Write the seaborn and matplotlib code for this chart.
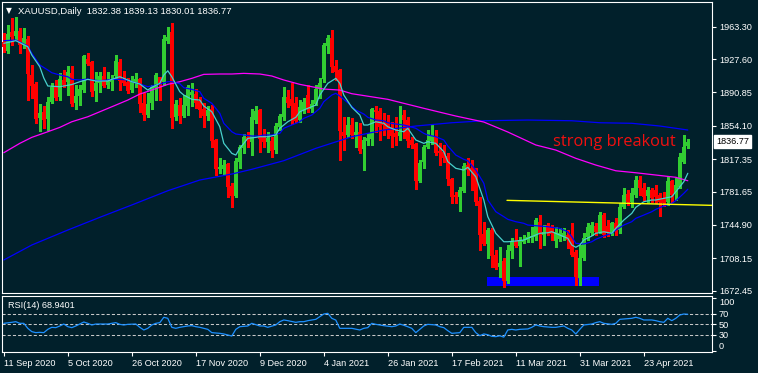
import numpy as np
import pandas as pd
import matplotlib
matplotlib.use("Agg")
import matplotlib.pyplot as plt
import matplotlib.transforms as mtransforms
import seaborn as sns

# ---------------- data ----------------
symbol_title = "XAUUSD,Daily  1832.38 1839.13 1830.01 1836.77"
rsi_title = "RSI(14) 68.9401"
note_text = "strong breakout"

date_labels = ["11 Sep 2020", "5 Oct 2020", "26 Oct 2020", "17 Nov 2020", "9 Dec 2020",
               "4 Jan 2021", "26 Jan 2021", "17 Feb 2021", "11 Mar 2021", "31 Mar 2021",
               "23 Apr 2021"]
date_idx = [0, 16, 32, 48, 64, 80, 96, 112, 128, 144, 160]

price_ticks = [1963.30, 1927.60, 1890.85, 1854.10, 1817.35, 1781.65, 1744.90, 1708.15, 1672.45]
rsi_ticks = [100, 70, 50, 30, 0]
rsi_levels = [70, 50, 30]

opens = [1946.8, 1936.8, 1957.8, 1953.0, 1958.5, 1943.1, 1949.7, 1910.1, 1900.2, 1862.7,
         1869.3, 1861.6, 1880.6, 1896.9, 1886.2, 1904.6, 1902.4, 1912.3, 1879.2, 1886.9,
         1893.5, 1927.7, 1924.7, 1892.8, 1901.3, 1909.0, 1899.1, 1902.4, 1909.0, 1924.4,
         1905.7, 1902.4, 1893.5, 1901.3, 1905.7, 1879.6, 1866.0, 1879.2, 1895.8, 1907.9,
         1902.4, 1947.9, 1957.8, 1863.5, 1877.0, 1865.2, 1875.9, 1888.0, 1889.1, 1881.4,
         1872.6, 1865.2, 1872.6, 1838.5, 1806.5, 1806.5, 1812.0, 1787.8, 1776.8, 1814.6,
         1829.7, 1842.1, 1836.6, 1860.5, 1871.5, 1841.8, 1836.6, 1837.7, 1827.4, 1852.4,
         1863.5, 1885.5, 1883.3, 1879.6, 1860.5, 1871.5, 1888.0, 1872.3, 1878.1, 1894.3,
         1905.3, 1942.0, 1950.5, 1920.0, 1915.6, 1847.6, 1844.0, 1855.0, 1844.0, 1847.6,
         1828.6, 1837.7, 1839.6, 1871.5, 1870.7, 1857.5, 1856.9, 1852.0, 1845.8, 1842.9,
         1866.0, 1860.5, 1838.5, 1834.1, 1793.6, 1814.6, 1830.4, 1837.7, 1843.2, 1826.3,
         1825.6, 1820.8, 1795.2, 1777.9, 1776.0, 1782.6, 1810.9, 1807.3, 1806.5, 1771.3,
         1734.9, 1723.9, 1739.3, 1711.8, 1698.2, 1705.2, 1683.5, 1716.5, 1726.4, 1721.7,
         1726.4, 1728.3, 1730.2, 1731.9, 1748.5, 1733.8, 1744.8, 1743.0, 1727.5, 1729.1,
         1731.3, 1733.8, 1733.8, 1715.4, 1686.1, 1708.1, 1731.9, 1735.7, 1743.7, 1737.4,
         1755.8, 1743.7, 1735.7, 1746.7, 1739.3, 1764.3, 1779.0, 1770.5, 1777.9, 1794.4,
         1785.2, 1776.8, 1783.4, 1783.4, 1777.9, 1774.2, 1770.5, 1793.3, 1779.7, 1787.0,
         1814.6, 1832.38]
highs = [1956.3, 1965.2, 1972.9, 1974.0, 1961.9, 1961.9, 1953.0, 1921.1, 1902.4, 1878.1,
         1875.9, 1886.2, 1901.3, 1904.6, 1912.3, 1915.6, 1920.0, 1920.0, 1899.1, 1899.1,
         1932.1, 1934.3, 1925.5, 1913.7, 1913.7, 1919.2, 1913.7, 1910.1, 1932.1, 1927.7,
         1914.8, 1906.8, 1909.0, 1912.6, 1906.8, 1890.2, 1890.6, 1899.1, 1911.9, 1908.2,
         1954.1, 1963.3, 1967.0, 1882.5, 1884.4, 1888.0, 1899.1, 1900.9, 1894.6, 1886.2,
         1878.9, 1875.9, 1877.0, 1839.6, 1818.6, 1816.4, 1813.4, 1791.1, 1818.3, 1833.0,
         1845.1, 1847.6, 1872.3, 1875.9, 1872.6, 1850.3, 1847.6, 1842.1, 1856.9, 1866.8,
         1897.2, 1893.5, 1900.9, 1886.2, 1882.5, 1884.4, 1899.1, 1882.5, 1899.1, 1906.4,
         1945.7, 1954.1, 1959.7, 1926.6, 1916.7, 1864.1, 1863.5, 1862.4, 1858.6, 1857.2,
         1842.1, 1845.8, 1873.4, 1875.9, 1873.4, 1868.5, 1866.0, 1858.6, 1864.1, 1875.9,
         1871.5, 1864.1, 1842.1, 1834.8, 1816.4, 1833.0, 1849.5, 1856.1, 1849.5, 1834.8,
         1833.0, 1823.8, 1796.3, 1781.5, 1787.0, 1812.8, 1818.3, 1816.4, 1807.3, 1776.0,
         1748.5, 1741.2, 1741.2, 1717.3, 1720.9, 1708.1, 1722.8, 1730.2, 1740.1, 1731.9,
         1733.8, 1737.4, 1743.0, 1752.5, 1755.8, 1744.8, 1746.7, 1744.8, 1743.0, 1741.2,
         1741.5, 1739.3, 1746.7, 1717.3, 1722.8, 1735.7, 1746.7, 1748.5, 1746.7, 1759.5,
         1757.7, 1750.3, 1748.5, 1752.2, 1769.4, 1785.2, 1783.4, 1785.2, 1798.8, 1798.8,
         1790.8, 1787.0, 1785.2, 1788.9, 1779.7, 1781.5, 1798.0, 1794.4, 1796.3, 1823.8,
         1844.0, 1839.13]
lows = [1935.4, 1934.3, 1943.1, 1948.6, 1934.3, 1939.8, 1882.5, 1884.7, 1857.2, 1848.7,
        1852.0, 1849.5, 1879.2, 1882.5, 1882.5, 1896.9, 1888.0, 1875.9, 1872.9, 1877.0,
        1891.3, 1921.1, 1886.9, 1881.8, 1891.7, 1897.2, 1895.4, 1893.5, 1906.8, 1893.5,
        1899.1, 1890.6, 1891.7, 1897.2, 1869.6, 1860.5, 1864.1, 1872.6, 1882.5, 1882.5,
        1899.1, 1945.3, 1851.7, 1860.5, 1856.9, 1864.1, 1866.0, 1875.9, 1873.4, 1864.1,
        1853.1, 1860.5, 1831.1, 1799.9, 1802.1, 1801.0, 1775.7, 1765.0, 1775.3, 1807.9,
        1823.8, 1831.1, 1821.9, 1856.9, 1825.6, 1831.1, 1825.6, 1819.4, 1823.8, 1849.5,
        1860.5, 1874.5, 1856.1, 1858.6, 1858.6, 1868.5, 1869.6, 1869.6, 1877.0, 1884.4,
        1902.7, 1934.0, 1913.7, 1904.6, 1816.4, 1827.4, 1842.1, 1840.3, 1831.1, 1824.1,
        1805.4, 1833.0, 1833.0, 1847.6, 1838.5, 1844.0, 1840.3, 1831.1, 1833.0, 1838.5,
        1840.3, 1831.1, 1829.3, 1784.5, 1792.5, 1807.3, 1829.3, 1834.1, 1821.9, 1810.9,
        1814.6, 1788.9, 1768.7, 1769.4, 1760.6, 1781.5, 1799.9, 1783.4, 1766.9, 1717.3,
        1722.8, 1708.1, 1698.9, 1696.3, 1687.9, 1676.9, 1680.6, 1708.1, 1720.9, 1700.0,
        1724.7, 1726.4, 1726.4, 1728.3, 1719.5, 1722.8, 1733.8, 1728.3, 1720.9, 1727.2,
        1728.3, 1719.5, 1710.7, 1678.7, 1678.4, 1706.3, 1728.3, 1733.8, 1733.8, 1735.7,
        1731.9, 1732.7, 1733.8, 1733.8, 1735.7, 1763.2, 1766.9, 1765.0, 1775.3, 1777.9,
        1772.4, 1770.5, 1770.5, 1768.7, 1754.7, 1765.8, 1766.9, 1770.5, 1772.4, 1785.2,
        1812.8, 1830.01]
closes = [1941.3, 1955.2, 1952.3, 1958.5, 1943.1, 1951.2, 1911.2, 1898.3, 1861.6, 1868.5,
          1860.8, 1880.6, 1897.2, 1885.1, 1905.7, 1899.1, 1913.7, 1878.1, 1886.9, 1894.6,
          1931.0, 1922.5, 1891.3, 1901.6, 1909.0, 1898.3, 1904.6, 1906.0, 1925.5, 1903.8,
          1901.6, 1892.8, 1903.5, 1905.7, 1878.1, 1866.0, 1878.1, 1896.9, 1910.1, 1901.3,
          1949.7, 1951.6, 1862.7, 1878.1, 1865.2, 1877.0, 1896.9, 1891.7, 1879.2, 1871.5,
          1865.2, 1871.5, 1837.7, 1806.5, 1809.1, 1810.9, 1787.0, 1776.8, 1815.7, 1831.1,
          1842.1, 1837.7, 1863.8, 1870.7, 1839.6, 1836.6, 1840.7, 1826.7, 1853.9, 1864.9,
          1886.2, 1879.6, 1875.9, 1859.7, 1874.8, 1880.7, 1872.3, 1878.1, 1894.6, 1901.6,
          1943.1, 1950.5, 1918.6, 1913.7, 1848.7, 1842.9, 1855.0, 1844.0, 1847.6, 1826.3,
          1838.5, 1841.0, 1872.6, 1869.0, 1853.1, 1855.0, 1850.6, 1842.9, 1842.1, 1847.6,
          1860.5, 1837.7, 1833.0, 1793.6, 1812.8, 1830.4, 1838.5, 1844.0, 1824.5, 1823.8,
          1819.0, 1795.2, 1775.3, 1775.3, 1783.4, 1809.8, 1805.4, 1804.6, 1770.5, 1733.8,
          1723.9, 1739.3, 1711.0, 1697.1, 1702.6, 1683.1, 1717.3, 1726.4, 1722.0, 1728.3,
          1728.3, 1731.9, 1733.0, 1750.3, 1735.7, 1737.4, 1737.4, 1734.9, 1737.4, 1736.0,
          1735.7, 1728.3, 1711.8, 1687.9, 1708.5, 1730.2, 1743.0, 1744.8, 1737.4, 1755.8,
          1733.8, 1735.7, 1746.7, 1737.4, 1764.3, 1777.9, 1770.5, 1779.7, 1794.4, 1785.2,
          1776.0, 1783.4, 1774.2, 1776.0, 1770.5, 1768.7, 1793.3, 1777.9, 1788.9, 1820.1,
          1831.1, 1836.77]

# fast moving average (turquoise), read at bar positions
ma_fast_idx = [0, 3, 6, 7, 9, 10, 11, 14, 17, 19, 21, 23, 26, 27, 29, 31, 32, 34, 36, 37,
               39, 40, 41, 42, 44, 45, 47, 49, 50, 52, 54, 55, 57, 58, 59, 61, 63, 64, 66, 68,
               69, 71, 73, 74, 76, 78, 79, 81, 83, 84, 85, 87, 89, 90, 91, 93, 95, 96, 98, 100,
               101, 103, 105, 106, 108, 110, 111, 113, 115, 116, 118, 120, 121, 123, 125, 126,
               128, 130, 131, 134, 136, 137, 139, 141, 142, 143, 144, 145, 147, 148, 150, 152,
               153, 155, 157, 158, 160, 162, 163, 165, 167, 168, 170, 171]
ma_fast_val = [1945.0, 1947.9, 1941.3, 1932.1, 1919.2, 1906.8, 1898.0, 1897.2, 1899.6, 1902.7,
               1905.3, 1903.5, 1903.5, 1905.3, 1908.2, 1904.6, 1902.7, 1900.2, 1893.5, 1896.5,
               1900.9, 1910.1, 1914.8, 1908.2, 1891.7, 1888.0, 1883.3, 1882.5, 1875.9, 1869.6,
               1853.1, 1834.8, 1823.8, 1821.9, 1829.3, 1840.3, 1841.4, 1842.1, 1842.1, 1844.0,
               1851.4, 1858.6, 1863.5, 1869.6, 1873.4, 1877.0, 1888.0, 1900.9, 1906.4, 1900.9,
               1888.0, 1874.5, 1866.0, 1855.0, 1855.0, 1858.6, 1856.9, 1853.1, 1849.5, 1847.6,
               1851.4, 1838.5, 1834.8, 1836.6, 1834.8, 1825.6, 1814.6, 1807.3, 1805.4, 1808.4,
               1798.0, 1772.4, 1754.0, 1735.7, 1726.4, 1726.4, 1727.2, 1728.3, 1730.2, 1735.7,
               1736.3, 1737.4, 1733.8, 1730.2, 1722.8, 1720.3, 1722.8, 1728.3, 1732.7, 1735.7,
               1737.4, 1735.7, 1741.2, 1750.3, 1757.7, 1764.3, 1770.5, 1772.4, 1772.4, 1774.2,
               1776.0, 1781.5, 1792.5, 1801.8]

# medium moving average (blue)
ma_mid_idx = [0, 3, 6, 7, 9, 11, 12, 14, 16, 17, 19, 21, 22, 24, 26, 27, 29, 31, 32, 34,
              36, 37, 39, 41, 42, 44, 45, 47, 49, 50, 52, 54, 55, 57, 58, 60, 62, 64, 65, 67,
              69, 70, 72, 74, 75, 77, 79, 80, 82, 83, 84, 86, 88, 90, 91, 93, 95, 96, 98, 100,
              101, 103, 105, 106, 108, 110, 111, 113, 115, 116, 118, 120, 121, 123, 125, 126,
              128, 130, 131, 134, 136, 137, 139, 141, 142, 143, 145, 147, 148, 150, 152, 153,
              155, 157, 158, 160, 162, 163, 165, 167, 168, 170, 171]
ma_mid_val = [1947.9, 1948.6, 1942.0, 1934.0, 1921.1, 1915.6, 1912.6, 1910.1, 1908.2, 1905.3,
              1904.6, 1905.7, 1904.6, 1903.8, 1904.6, 1905.3, 1905.3, 1904.6, 1902.7, 1900.2,
              1897.2, 1898.0, 1900.2, 1902.7, 1902.7, 1900.5, 1896.1, 1894.3, 1891.7, 1884.4,
              1878.9, 1867.9, 1856.9, 1847.6, 1845.1, 1844.0, 1842.9, 1842.9, 1844.0, 1844.0,
              1845.8, 1851.4, 1855.0, 1858.6, 1862.4, 1866.0, 1873.4, 1880.7, 1888.0, 1889.9,
              1886.9, 1879.6, 1871.5, 1867.1, 1863.5, 1860.5, 1859.7, 1857.5, 1856.1, 1855.0,
              1853.9, 1851.4, 1845.8, 1844.0, 1842.1, 1838.5, 1831.9, 1821.9, 1817.2, 1815.7,
              1805.4, 1790.8, 1772.4, 1759.5, 1754.0, 1751.1, 1748.5, 1746.7, 1744.8, 1743.7,
              1743.0, 1742.3, 1741.2, 1737.4, 1731.9, 1724.7, 1723.9, 1726.4, 1729.1, 1732.7,
              1735.7, 1739.3, 1744.8, 1748.5, 1752.2, 1755.8, 1759.5, 1762.1, 1765.8, 1768.7,
              1771.6, 1779.7, 1784.2]

# slow moving average (magenta)
ma_slow_idx = [0, 4, 7, 11, 14, 17, 21, 24, 27, 31, 34, 37, 41, 44, 47, 50, 54, 57, 60, 64,
               67, 70, 74, 77, 80, 84, 87, 96, 105, 113, 120, 126, 133, 138, 143, 148, 153, 158,
               163, 168, 171]
ma_slow_val = [1824.5, 1834.8, 1841.4, 1847.6, 1852.4, 1858.6, 1864.1, 1869.6, 1875.1, 1882.5,
               1889.1, 1893.5, 1899.8, 1902.7, 1906.4, 1910.8, 1911.2, 1911.2, 1911.9, 1911.2,
               1909.0, 1904.6, 1899.8, 1897.2, 1894.6, 1893.5, 1889.5, 1883.3, 1873.4, 1864.9,
               1858.3, 1847.3, 1833.0, 1827.4, 1818.3, 1810.9, 1804.6, 1802.4, 1799.9, 1797.4,
               1793.6]

# long moving average (blue, rising from bottom left)
ma_long_idx = [0, 7, 16, 24, 32, 41, 49, 57, 62, 70, 78, 87, 95, 103, 112, 120, 131, 142, 149,
               157, 164, 171]
ma_long_val = [1706.3, 1722.8, 1739.3, 1753.3, 1766.9, 1782.6, 1794.4, 1801.0, 1806.2, 1815.7,
               1829.3, 1842.1, 1849.5, 1853.9, 1857.5, 1859.7, 1860.5, 1859.7, 1857.5, 1856.9,
               1853.9, 1849.5]

# RSI(14)
rsi_idx = [0, 2, 3, 4, 5, 6, 7, 8, 9, 10, 11, 12, 13, 14, 15, 16, 17, 18, 20, 21, 22, 23, 24,
           26, 27, 28, 29, 30, 31, 33, 34, 35, 36, 37, 38, 39, 40, 41, 42, 43, 44, 46, 47, 48,
           49, 51, 52, 54, 55, 57, 58, 59, 61, 62, 64, 65, 66, 68, 69, 70, 71, 73, 74, 75, 76,
           78, 79, 80, 81, 82, 83, 84, 86, 87, 89, 90, 91, 92, 93, 94, 95, 97, 98, 99, 100,
           101, 102, 103, 104, 105, 106, 108, 109, 110, 111, 112, 114, 115, 117, 118, 119,
           120, 121, 122, 123, 124, 125, 126, 127, 128, 129, 131, 132, 133, 134, 135, 137,
           138, 140, 141, 142, 143, 144, 145, 147, 148, 149, 150, 152, 153, 154, 155, 157,
           158, 159, 160, 162, 163, 164, 165, 166, 167, 168, 169, 170, 171]
rsi_val = [51.9, 53.8, 55.0, 51.9, 51.9, 42.5, 36.3, 34.4, 35.0, 34.4, 40.6, 44.4, 43.8, 46.9,
           50.6, 45.6, 43.8, 46.9, 54.4, 51.9, 48.8, 50.6, 50.6, 50.6, 51.9, 53.2, 50.0, 48.8,
           50.0, 50.6, 44.4, 39.4, 42.5, 48.8, 51.9, 53.2, 63.2, 61.3, 44.4, 42.5, 44.4, 46.9,
           47.5, 45.6, 44.4, 40.6, 34.4, 33.1, 31.9, 28.1, 40.6, 45.6, 46.9, 51.9, 46.9, 46.9,
           44.4, 48.8, 55.0, 58.2, 56.9, 53.8, 55.0, 55.0, 56.9, 59.4, 64.4, 69.4, 70.7, 61.3,
           58.0, 42.5, 42.5, 42.5, 39.4, 42.5, 43.8, 51.9, 50.0, 48.8, 47.5, 45.6, 46.9, 50.6,
           48.2, 45.5, 42.5, 34.4, 40.6, 46.9, 50.0, 48.8, 45.6, 43.8, 38.1, 33.1, 34.4, 44.4,
           44.4, 34.4, 28.7, 31.9, 30.5, 27.5, 26.9, 28.5, 26.0, 39.4, 40.6, 39.4, 40.6, 41.3,
           44.4, 48.8, 46.9, 45.6, 44.4, 44.4, 46.9, 42.5, 39.4, 31.9, 40.6, 48.8, 50.6, 53.2,
           55.0, 51.9, 50.0, 51.9, 59.4, 60.0, 61.3, 63.2, 61.3, 58.2, 58.2, 56.9, 55.0, 53.8,
           61.3, 56.9, 61.3, 67.5, 69.4, 68.9]

# drawn objects
neck_idx = [125.8, 177.05]
neck_price = [1772.0, 1766.5]
zone_idx = [120.8, 148.8]
zone_low, zone_high = 1677.9, 1687.2
note_idx, note_price = 137.3, 1836.3

# ---------------- style ----------------
BG = "#01202b"
GREEN = "#32cd32"
RED = "#ff0000"
FG = "#ffffff"
W, H = 758, 373

sns.set_style("dark", {"axes.facecolor": BG, "figure.facecolor": BG,
                       "axes.edgecolor": FG, "axes.grid": False})
plt.rcParams["font.family"] = ["Liberation Sans", "DejaVu Sans"]

fig = plt.figure(figsize=(W / 100, H / 100), dpi=100, facecolor=BG)
ax = fig.add_axes([2.3 / W, (H - 293.3) / H, 709.7 / W, 291.0 / H])
ax2 = fig.add_axes([2.3 / W, (H - 351.7) / H, 709.7 / W, 56.0 / H])

o = np.array(opens); h = np.array(highs); l = np.array(lows); c = np.array(closes)
x = np.arange(len(c))
cols = np.where(c >= o, GREEN, RED)

# wicks + bodies
ax.vlines(x, l, h, colors=cols, linewidth=0.8, antialiased=False, zorder=3)
body_low = np.minimum(o, c)
body_h = np.maximum(np.abs(c - o), 0.7)
ax.bar(x, body_h, bottom=body_low, width=0.75, color=cols, linewidth=0,
       antialiased=False, zorder=4)

# moving averages
lines = [(ma_long_idx, ma_long_val, "#0000ff"),
         (ma_slow_idx, ma_slow_val, "#ff00ff"),
         (ma_mid_idx, ma_mid_val, "#0000ff"),
         (ma_fast_idx, ma_fast_val, "#48d1cc")]
for xi, yi, col in lines:
    sns.lineplot(x=xi, y=yi, ax=ax, color=col, linewidth=0.9, estimator=None,
                 sort=False, zorder=5)

# neckline + support zone
sns.lineplot(x=neck_idx, y=neck_price, ax=ax, color="#ffff00", linewidth=1.0,
             estimator=None, sort=False, zorder=6)
ax.fill_between(zone_idx, zone_low, zone_high, color="#0000ff", linewidth=0, zorder=2)

ax.text(note_idx, note_price, note_text, color="#f01010", fontsize=11.8,
        family=["Open Sans", "DejaVu Sans"], ha="left", va="center", zorder=7)

ax.set_xlim(-0.375, 177.05)
ax.set_ylim(1669.6, 1990.2)
ax.yaxis.tick_right()
ax.set_yticks(price_ticks)
ax.set_yticklabels([f"{v:.2f}" for v in price_ticks])
ax.tick_params(axis="y", colors=FG, labelcolor=FG, labelsize=6.6, length=3,
               width=0.8, pad=2, direction="out", right=True, left=False)
ax.tick_params(axis="x", bottom=False, labelbottom=False)
ax.set_xlabel(""); ax.set_ylabel("")

# current price box
trans = mtransforms.blended_transform_factory(ax.transAxes, ax.transData)
ax.text(1.0 + 4.0 / 709.7, c[-1], f"{c[-1]:.2f}", transform=trans, ha="left",
        va="center", fontsize=6.6, color="black", zorder=8, clip_on=False,
        bbox=dict(boxstyle="square,pad=0.18", facecolor="white", edgecolor="white"))

# RSI panel
for lv in rsi_levels:
    ax2.axhline(lv, color="#c8c8c8", linewidth=0.75, linestyle=(0, (3, 2)), zorder=1)
sns.lineplot(x=rsi_idx, y=rsi_val, ax=ax2, color="#1e90ff", linewidth=0.9,
             estimator=None, sort=False, zorder=3)
ax2.set_xlim(-0.375, 177.05)
ax2.set_ylim(-1.4, 103.8)
ax2.yaxis.tick_right()
ax2.set_yticks(rsi_ticks)
ax2.set_yticklabels([str(v) for v in rsi_ticks])
ax2.tick_params(axis="y", colors=FG, labelcolor=FG, labelsize=6.6, length=3,
                width=0.8, pad=2, right=True, left=False)
ylabs = ax2.get_yticklabels()
ylabs[0].set_va("top")
ylabs[-1].set_va("bottom")
ax2.set_xticks(date_idx)
ax2.set_xticklabels(date_labels, ha="left")
ax2.tick_params(axis="x", colors=FG, labelcolor=FG, labelsize=6.6, length=3,
                width=0.8, pad=2, bottom=True)
ax2.set_xlabel(""); ax2.set_ylabel("")

for a in (ax, ax2):
    for s in a.spines.values():
        s.set_color(FG)
        s.set_linewidth(0.8)
        s.set_visible(True)

# headers
fig.text(6 / W, 1 - 11 / H, "\u25bc", color=FG, fontsize=5.5, ha="left", va="center",
         family=["DejaVu Sans"])
fig.text(18 / W, 1 - 11 / H, symbol_title, color=FG, fontsize=6.8, ha="left", va="center")
fig.text(8 / W, 1 - 305 / H, rsi_title, color=FG, fontsize=6.6, ha="left", va="center")

fig.savefig("out.png", dpi=100, facecolor=BG)
